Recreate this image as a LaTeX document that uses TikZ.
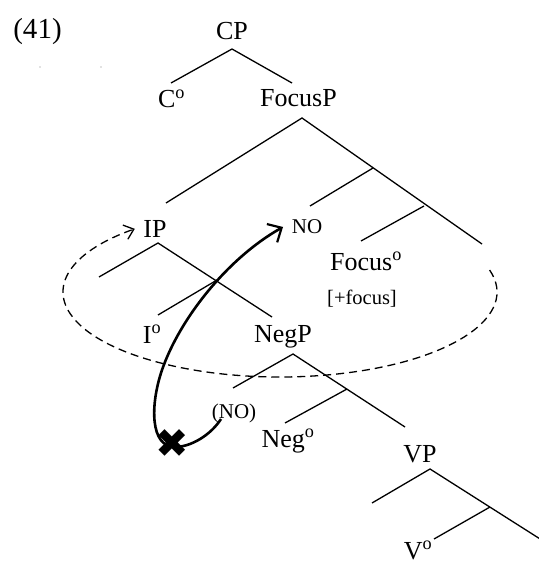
\documentclass[tikz,border=0pt]{standalone}
\usepackage{fontspec}
\setmainfont{Liberation Serif}
\newfontfamily\symfont{DejaVu Sans}
\usetikzlibrary{arrows.meta}
\begin{document}
\begin{tikzpicture}[x=1pt,y=-1pt,
  lab/.style={anchor=base, inner sep=0pt, font=\fontsize{26}{30}\selectfont},
  smlab/.style={anchor=base, inner sep=0pt, font=\fontsize{21}{24}\selectfont},
  featlab/.style={anchor=base, inner sep=0pt, font=\fontsize{20.5}{24}\selectfont},
  numlab/.style={anchor=base, inner sep=0pt, font=\fontsize{29}{32}\selectfont},
  br/.style={line width=1.3pt},
  mv/.style={line width=2.6pt, -{Straight Barb[length=11pt,width=21pt,line width=2.2pt]}},
  ring/.style={line width=1.3pt, dash pattern=on 8pt off 5pt, -{Straight Barb[length=9pt,width=15pt,line width=1.3pt]}}
]
\useasboundingbox (0,0) rectangle (538,564);

% example number and tiny dots
\node[numlab] (num) at (37.5,39) {(41)};
\fill[gray] (40,67) circle (0.7pt) (101,67) circle (0.7pt);

% labels
\node[lab] (cp) at (232,40) {CP};
\node[lab] (c0) at (171.5,108) {C\textsuperscript{o}};
\node[lab] (fp) at (298.5,107) {FocusP};
\node[lab] (ip) at (155,237) {IP};
\node[smlab] (no) at (307,233) {NO};
\node[lab] (f0) at (366,270) {Focus\textsuperscript{o}};
\node[featlab] (feat) at (362,304) {[+focus]};
\node[lab] (i0) at (152,343) {I\textsuperscript{o}};
\node[lab] (np) at (283,342) {NegP};
\node[smlab] (tr) at (234,418) {(NO)};
\node[lab] (n0) at (288,447) {Neg\textsuperscript{o}};
\node[lab] (vp) at (420,462) {VP};
\node[lab] (v0) at (418,559) {V\textsuperscript{o}};

% branch points
\coordinate (cpA) at (232,49);  \coordinate (cpL) at (171,83);  \coordinate (cpR) at (292,83);
\coordinate (fpA) at (302,118); \coordinate (fpL) at (166,203); \coordinate (fpR) at (482,244);
\coordinate (fb1) at (373,168); \coordinate (fb1L) at (310,206);
\coordinate (fb2) at (424,206); \coordinate (fb2L) at (361,241);
\coordinate (ipA) at (158,243); \coordinate (ipL) at (99,277);  \coordinate (ipR) at (272,317);
\coordinate (ib) at (217,280);  \coordinate (ibL) at (158,315);
\coordinate (npA) at (293,354); \coordinate (npL) at (233,388); \coordinate (npR) at (405,427);
\coordinate (nb) at (347,389);  \coordinate (nbL) at (285,423);
\coordinate (vpA) at (430,469); \coordinate (vpL) at (372,503); \coordinate (vpR) at (548,544);
\coordinate (vb) at (490,507);  \coordinate (vbL) at (434,539);

\draw[br] (cpL) -- (cpA) -- (cpR);
\draw[br] (fpL) -- (fpA) -- (fpR);
\draw[br] (fb1) -- (fb1L);
\draw[br] (fb2) -- (fb2L);
\draw[br] (ipL) -- (ipA) -- (ipR);
\draw[br] (ib) -- (ibL);
\draw[br] (npL) -- (npA) -- (npR);
\draw[br] (nb) -- (nbL);
\draw[br] (vpL) -- (vpA) -- (vpR);
\draw[br] (vb) -- (vbL);

% dashed ring ending at IP
\coordinate (rs) at (489.6,270);
\draw[ring] (rs) arc[start angle=15, end angle=-228, x radius=217pt, y radius=85pt];

% movement arrow
\coordinate (mvS) at (221,419);
\coordinate (mvB) at (175,447);
\coordinate (mvM) at (162,370);
\coordinate (mvE) at (283,227);
\draw[mv] (mvS) .. controls (210,436) and (190,447) .. (mvB)
  .. controls (150,447) and (150,405) .. (mvM)
  .. controls (180,318) and (228,258) .. (mvE);
\node[inner sep=0pt, font=\symfont\fontsize{40}{40}\selectfont] (xm) at (172,444) {✖};
\end{tikzpicture}
\end{document}
